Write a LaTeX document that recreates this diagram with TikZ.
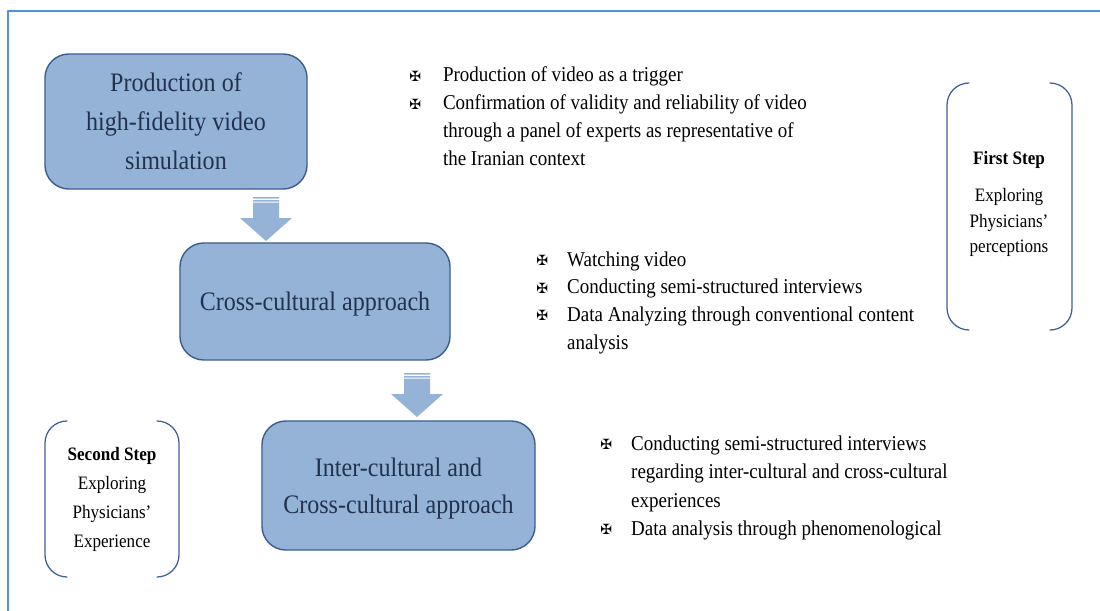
\documentclass[tikz,border=0pt]{standalone}
\usepackage{fontspec}
\setmainfont[FakeStretch=0.9]{Liberation Serif}
\newfontfamily\symfont{DejaVu Sans}
\usetikzlibrary{positioning}

\definecolor{boxfill}{HTML}{95B3D7}
\definecolor{boxline}{HTML}{3C5D8F}
\definecolor{boxtext}{HTML}{22324E}
\definecolor{bracketline}{HTML}{41609A}
\definecolor{frameline}{HTML}{4F94D8}

% maltese cross used as list marker
\newcommand{\mx}{{\symfont\fontsize{10}{10}\selectfont\raisebox{0.5pt}{✠}}}
% push a label down a little without changing its box
\newcommand{\dropdown}[2]{\raisebox{-#1}[\height][\depth]{#2}}

\begin{document}
\begin{tikzpicture}[x=0.025cm, y=-0.025cm, line join=round, line cap=round,
    stage/.style={draw=boxline, line width=1pt, fill=boxfill, rounded corners=0.6cm,
      align=center, text=boxtext, font=\fontsize{19}{27.7}\selectfont},
    steptext/.style={align=center, font=\fontsize{13.5}{18}\selectfont},
    bracket/.style={draw=bracketline, line width=0.9pt, rounded corners=0.55cm},
    items/.style={anchor=base west, inner sep=0pt, font=\fontsize{15}{19.8}\selectfont},
    blockarrow/.pic={
      \fill[boxfill] (-13,0) rectangle (13,1.5) (-13,3) rectangle (13,4.5);
      \fill[boxfill] (-13,5.5) -- (13,5.5) -- (13,21) -- (26,21) -- (0,44)
        -- (-26,21) -- (-13,21) -- cycle;
    }]
  \useasboundingbox (0,0) rectangle (1100,611);
  \draw[frameline, line width=1pt] (1100,11) -- (8,11) -- (8,611);

  % the three stages
  \node[stage, minimum width=6.55cm, minimum height=3.375cm] (prod) at (176,121.5)
    {Production of\\high-fidelity video\\simulation};
  \node[stage, minimum width=6.75cm, minimum height=2.925cm] (cross) at (315,301.5)
    {\dropdown{2pt}{Cross-cultural approach}};
  \node[stage, minimum width=6.825cm, minimum height=3.225cm,
    font=\fontsize{19}{26.4}\selectfont] (inter) at (398.5,485.5)
    {\dropdown{2pt}{Inter-cultural and}\\\dropdown{2pt}{Cross-cultural approach}};

  \pic at (266,197) {blockarrow};
  \pic at (417,373) {blockarrow};

  % what is done at each stage
  \node[items] (list1) at (409,82) {\begin{tabular}[t]{@{}p{24pt}@{}l@{}}
    \mx & Production of video as a trigger\\
    \mx & Confirmation of validity and reliability of video\\
        & through a panel of experts as representative of\\
        & the Iranian context
  \end{tabular}};
  \node[items] (list2) at (536,266) {\begin{tabular}[t]{@{}p{22pt}@{}l@{}}
    \mx & Watching video\\
    \mx & Conducting semi-structured interviews\\
    \mx & Data Analyzing through conventional content\\
        & analysis
  \end{tabular}};
  \node[items, font=\fontsize{15}{20.3}\selectfont] (list3) at (600,450)
  {\begin{tabular}[t]{@{}p{22pt}@{}l@{}}
    \mx & Conducting semi-structured interviews\\
        & regarding inter-cultural and cross-cultural\\
        & experiences\\
    \mx & Data analysis through phenomenological
  \end{tabular}};

  % steps
  \draw[bracket] (969,83) -- (947,83) -- (947,330) -- (969,330);
  \draw[bracket] (1050,83) -- (1072,83) -- (1072,330) -- (1050,330);
  \node[steptext] (first) at (1009,204)
    {\textbf{First Step}\\[8.5pt]Exploring\\Physicians’\\perceptions};

  \draw[bracket] (67,421) -- (45,421) -- (45,577) -- (67,577);
  \draw[bracket] (157,421) -- (179,421) -- (179,577) -- (157,577);
  \node[steptext, font=\fontsize{13.5}{20.5}\selectfont] (second) at (112,499.5)
    {\textbf{Second Step}\\Exploring\\Physicians’\\Experience};
\end{tikzpicture}
\end{document}
